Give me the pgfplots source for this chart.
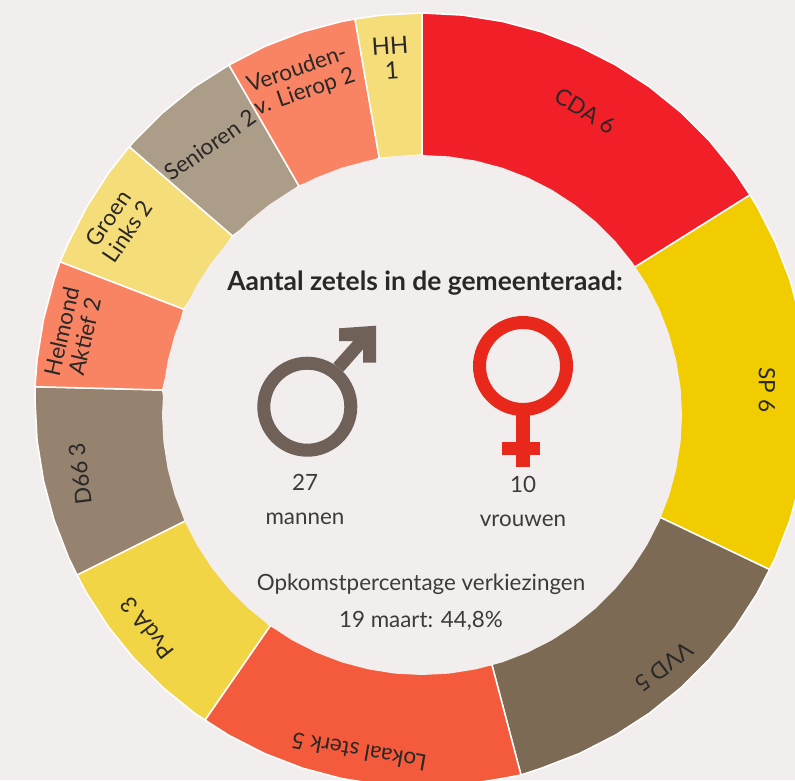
\documentclass[border=0pt]{standalone}
\usepackage{fontspec}
\setmainfont{Lato}
\usepackage{pgfplots}
\pgfplotsset{compat=1.18}
\definecolor{bg}{HTML}{F2EEEE}
\definecolor{cda}{HTML}{F01F28}
\definecolor{sp}{HTML}{F0CC00}
\definecolor{vvd}{HTML}{7D6A55}
\definecolor{lok}{HTML}{F35B3C}
\definecolor{pvda}{HTML}{F2D544}
\definecolor{dsix}{HTML}{958370}
\definecolor{sal}{HTML}{F98464}
\definecolor{ylw}{HTML}{F5DD7A}
\definecolor{sen}{HTML}{AC9D89}
\definecolor{male}{HTML}{6F6158}
\definecolor{female}{HTML}{E8281A}
\definecolor{ink}{HTML}{2A2827}
\definecolor{ink2}{HTML}{3D3B3A}
\begin{document}
\begin{tikzpicture}
\begin{axis}[
  scale only axis, width=795pt, height=780pt,
  xmin=0, xmax=795, ymin=0, ymax=780, y dir=reverse,
  axis lines=none, ticks=none, clip=true,
  every axis plot/.append style={line join=round},
]
\addplot[fill=bg,draw=none] coordinates {(0,0)(795,0)(795,780)(0,780)} -- cycle;
% Seats: CDA 6, SP 6, VVD 5, Lokaal sterk 5, PvdA 3, D66 3, Helmond Aktief 2, GroenLinks 2, Senioren 2, Verouden-v. Lierop 2, HH 1
\pgfplotsset{sector/.style={draw=white,line width=1.5pt}}
\addplot[sector,fill=cda] coordinates {(422,155)(422,13)(462.5,15.1)(502.5,21.5)(541.6,31.9)(579.4,46.5)(615.5,64.9)(649.5,86.9)(681,112.4)(709.6,141)(735.1,172.5)(750,195)(635,267)} -- cycle;
\addplot[sector,fill=sp] coordinates {(635,267)(750,195)(757.1,206.5)(775.5,242.6)(790.1,280.4)(800.5,319.5)(806.9,359.5)(809,400)(806.9,440.5)(800.5,480.5)(790.1,519.6)(775.5,557.4)(769.5,569.5)(660.5,517.5)} -- cycle;
\addplot[sector,fill=vvd] coordinates {(660.5,517.5)(769.5,569.5)(757.1,593.5)(735.1,627.5)(709.6,659)(681,687.6)(649.5,713.1)(615.5,735.1)(579.4,753.5)(541.6,768.1)(521,775)(492,665)} -- cycle;
\addplot[sector,fill=lok] coordinates {(492,665)(521,775)(502.5,778.5)(462.5,784.9)(422,787)(381.5,784.9)(341.5,778.5)(302.4,768.1)(264.6,753.5)(228.5,735.1)(205,720)(270,626)} -- cycle;
\addplot[sector,fill=pvda] coordinates {(270,626)(205,720)(194.5,713.1)(163,687.6)(134.4,659)(108.9,627.5)(86.9,593.5)(77,575)(185,521)} -- cycle;
\addplot[sector,fill=dsix] coordinates {(185,521)(77,575)(68.5,557.4)(53.9,519.6)(43.5,480.5)(37.1,440.5)(35,400)(35,386.7)(162.7,390)} -- cycle;
\addplot[sector,fill=sal] coordinates {(162.7,390)(35,386.7)(37.1,359.5)(43.5,319.5)(53.9,280.4)(60,261.7)(184,309.3)} -- cycle;
\addplot[sector,fill=ylw] coordinates {(184,309.3)(60,261.7)(68.5,242.6)(86.9,206.5)(108.9,172.5)(129.3,146.7)(232.7,236)} -- cycle;
\addplot[sector,fill=sen] coordinates {(232.7,236)(129.3,146.7)(134.4,141)(163,112.4)(194.5,86.9)(229,65)(299,186)} -- cycle;
\addplot[sector,fill=sal] coordinates {(299,186)(229,65)(264.6,46.5)(302.4,31.9)(341.5,21.5)(355,19)(379.3,158.3)} -- cycle;
\addplot[sector,fill=ylw] coordinates {(379.3,158.3)(355,19)(381.5,15.1)(422,13)(422,155)} -- cycle;
% inner disc
\addplot[fill=bg,draw=none] coordinates {(422,155)(449.2,156.4)(476.1,160.7)(502.3,167.7)(527.8,177.5)(552,189.8)(574.8,204.7)(596,221.8)(615.2,241)(632.3,262.2)(647.2,285)(659.5,309.2)(669.3,334.7)(676.3,360.9)(680.6,387.8)(682,415)(680.6,442.2)(676.3,469.1)(669.3,495.3)(659.5,520.8)(647.2,545)(632.3,567.8)(615.2,589)(596,608.2)(574.8,625.3)(552,640.2)(527.8,652.5)(502.3,662.3)(476.1,669.3)(449.2,673.6)(422,675)(394.8,673.6)(367.9,669.3)(341.7,662.3)(316.2,652.5)(292,640.2)(269.2,625.3)(248,608.2)(228.8,589)(211.7,567.8)(196.8,545)(184.5,520.8)(174.7,495.3)(167.7,469.1)(163.4,442.2)(162,415)(163.4,387.8)(167.7,360.9)(174.7,334.7)(184.5,309.2)(196.8,285)(211.7,262.2)(228.8,241)(248,221.8)(269.2,204.7)(292,189.8)(316.2,177.5)(341.7,167.7)(367.9,160.7)(394.8,156.4)} -- cycle;
% symbols
\draw[male,line width=13pt] (axis cs:307.3,406.7) circle[radius=43.5pt];
\fill[male] (axis cs:339,328.3) -- (axis cs:376,325.7) -- (axis cs:376,362.7) -- (axis cs:363,362.7) -- (axis cs:363,349.3) -- (axis cs:343.3,371.7) -- (axis cs:333.3,363.3) -- (axis cs:353.3,341) -- (axis cs:339,341) -- cycle;
\draw[female,line width=13pt] (axis cs:523,366) circle[radius=43.5pt];
\fill[female] (axis cs:516.3,412) rectangle (axis cs:530,466.7);
\fill[female] (axis cs:502.3,442) rectangle (axis cs:540.3,455.3);
% labels
\tikzset{lab/.style={text=ink,align=center,inner sep=0pt,font=\fontsize{22.5}{23.5}\selectfont}}
\node[lab,rotate=-31] at (axis cs:585,111) {CDA 6};
\node[lab,rotate=-90] at (axis cs:767,390) {SP 6};
\node[lab,rotate=217] at (axis cs:664,667) {VVD 5};
\node[lab,rotate=170] at (axis cs:359,752) {Lokaal sterk 5};
\node[lab,rotate=128] at (axis cs:147,628) {PvdA 3};
\node[lab,rotate=97] at (axis cs:80,474) {D66 3};
\node[lab,rotate=77] at (axis cs:73,334) {Helmond\\Aktief 2};
\node[lab,rotate=56] at (axis cs:118,225) {Groen\\Links 2};
\node[lab,rotate=35] at (axis cs:210,145) {Senioren 2};
\node[lab,rotate=19] at (axis cs:301,81) {Verouden-\\v. Lierop 2};
\node[lab,rotate=4,font=\fontsize{24}{25}\selectfont] at (axis cs:391,58) {HH\\1};
\node[text=ink,inner sep=0pt,font=\fontsize{26.4}{28}\selectfont\bfseries] at (axis cs:425,283) {Aantal zetels in de gemeenteraad:};
\tikzset{txt/.style={text=ink2,inner sep=0pt,font=\fontsize{22.4}{24}\selectfont}}
\node[txt] at (axis cs:305,482) {27};
\node[txt] at (axis cs:305,519) {mannen};
\node[txt] at (axis cs:523,484) {10};
\node[txt] at (axis cs:523,521) {vrouwen};
\node[txt] at (axis cs:421,584) {Opkomstpercentage verkiezingen};
\node[txt] at (axis cs:421,621) {19 maart: 44,8\%};
\end{axis}
\end{tikzpicture}
\end{document}
